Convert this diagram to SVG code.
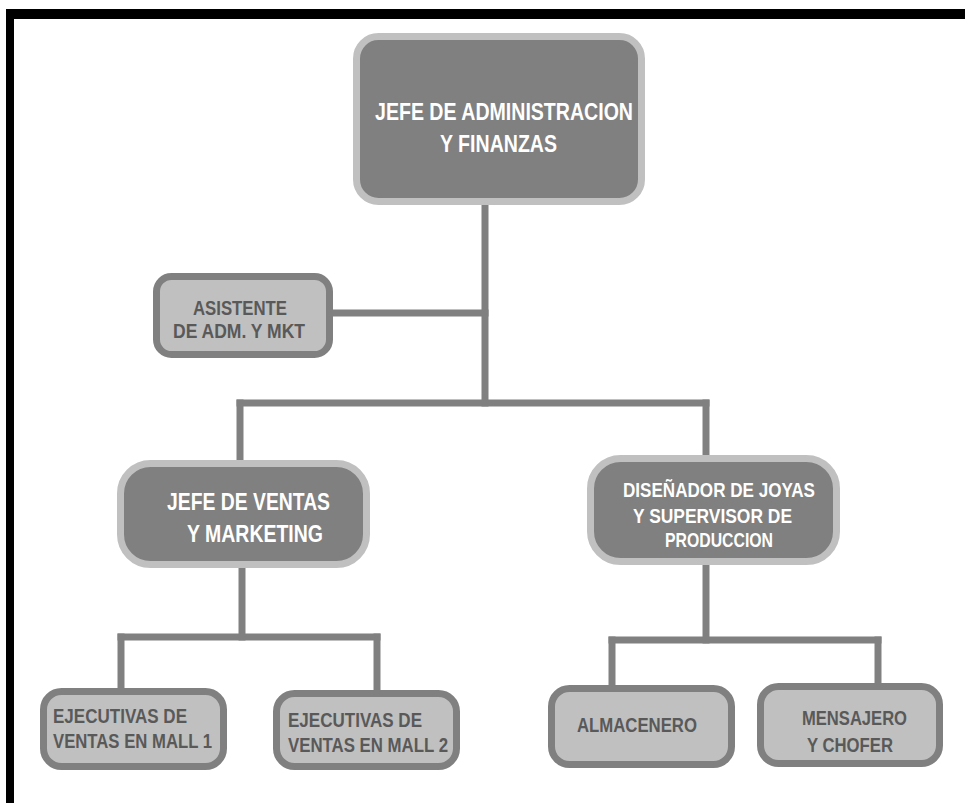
<svg xmlns="http://www.w3.org/2000/svg" width="965" height="803" viewBox="0 0 965 803">
<style>
.con{stroke:#808080;stroke-width:7;fill:none;stroke-linecap:square}
.dark{fill:#808080;stroke:#c0c0c0;stroke-width:7}
.light{fill:#c0c0c0;stroke:#808080;stroke-width:7}
.tw{font-family:"Liberation Sans",Arial,sans-serif;font-weight:bold;fill:#ffffff}
.td{font-family:"Liberation Sans",Arial,sans-serif;font-weight:bold;fill:#595959}
</style>
<rect x="0" y="0" width="965" height="803" fill="#ffffff"/>
<rect x="6" y="9" width="959" height="10" fill="#000000"/>
<rect x="6" y="9" width="8" height="794" fill="#000000"/>
<g id="connectors">
<line class="con" x1="485" y1="202" x2="485" y2="403"/>
<line class="con" x1="330" y1="313" x2="485" y2="313"/>
<line class="con" x1="240" y1="403" x2="706" y2="403"/>
<line class="con" x1="240" y1="403" x2="240" y2="462"/>
<line class="con" x1="706" y1="403" x2="706" y2="457"/>
<line class="con" x1="242" y1="566" x2="242" y2="637"/>
<line class="con" x1="121" y1="637" x2="377" y2="637"/>
<line class="con" x1="121" y1="637" x2="121" y2="690"/>
<line class="con" x1="377" y1="637" x2="377" y2="692"/>
<line class="con" x1="706" y1="563" x2="706" y2="640"/>
<line class="con" x1="612" y1="640" x2="878" y2="640"/>
<line class="con" x1="612" y1="640" x2="612" y2="687"/>
<line class="con" x1="878" y1="640" x2="878" y2="685"/>
</g>
<g id="jefe-admin">
<rect class="dark" x="356.5" y="36.5" width="285" height="165" rx="22"/>
<text class="tw" x="375" y="120" font-size="24" textLength="258" lengthAdjust="spacingAndGlyphs">JEFE DE ADMINISTRACION</text>
<text class="tw" x="440" y="152" font-size="24" textLength="117" lengthAdjust="spacingAndGlyphs">Y FINANZAS</text>
</g>
<g id="asistente">
<rect class="light" x="156.5" y="276.5" width="173" height="78" rx="15"/>
<text class="td" x="193" y="315" font-size="20" textLength="94" lengthAdjust="spacingAndGlyphs">ASISTENTE</text>
<text class="td" x="173" y="338" font-size="20" textLength="132" lengthAdjust="spacingAndGlyphs">DE  ADM. Y MKT</text>
</g>
<g id="jefe-ventas">
<rect class="dark" x="120.5" y="463.5" width="246" height="101" rx="30"/>
<text class="tw" x="167" y="510" font-size="24" textLength="163" lengthAdjust="spacingAndGlyphs">JEFE DE VENTAS</text>
<text class="tw" x="187" y="542" font-size="24" textLength="136" lengthAdjust="spacingAndGlyphs">Y MARKETING</text>
</g>
<g id="disenador">
<rect class="dark" x="590.5" y="458.5" width="246" height="103" rx="30"/>
<text class="tw" x="623" y="497" font-size="20" textLength="192" lengthAdjust="spacingAndGlyphs">DISEÑADOR DE JOYAS</text>
<text class="tw" x="633" y="523" font-size="20" textLength="159" lengthAdjust="spacingAndGlyphs">Y SUPERVISOR DE</text>
<text class="tw" x="665" y="547" font-size="20" textLength="108" lengthAdjust="spacingAndGlyphs">PRODUCCION</text>
</g>
<g id="ejecutivas-1">
<rect class="light" x="43.5" y="691.5" width="180" height="75" rx="18"/>
<text class="td" x="53" y="723" font-size="20" textLength="134" lengthAdjust="spacingAndGlyphs">EJECUTIVAS DE</text>
<text class="td" x="53" y="748" font-size="20" textLength="159" lengthAdjust="spacingAndGlyphs">VENTAS EN MALL 1</text>
</g>
<g id="ejecutivas-2">
<rect class="light" x="276.5" y="693.5" width="180" height="73" rx="18"/>
<text class="td" x="288" y="727" font-size="20" textLength="134" lengthAdjust="spacingAndGlyphs">EJECUTIVAS DE</text>
<text class="td" x="288" y="752" font-size="20" textLength="160" lengthAdjust="spacingAndGlyphs">VENTAS EN MALL 2</text>
</g>
<g id="almacenero">
<rect class="light" x="551.5" y="688.5" width="180" height="76" rx="18"/>
<text class="td" x="577" y="732" font-size="20" textLength="120" lengthAdjust="spacingAndGlyphs">ALMACENERO</text>
</g>
<g id="mensajero">
<rect class="light" x="760.5" y="686.5" width="179" height="77" rx="18"/>
<text class="td" x="802" y="725" font-size="20" textLength="105" lengthAdjust="spacingAndGlyphs">MENSAJERO</text>
<text class="td" x="807" y="752" font-size="20" textLength="86" lengthAdjust="spacingAndGlyphs">Y CHOFER</text>
</g>
</svg>
